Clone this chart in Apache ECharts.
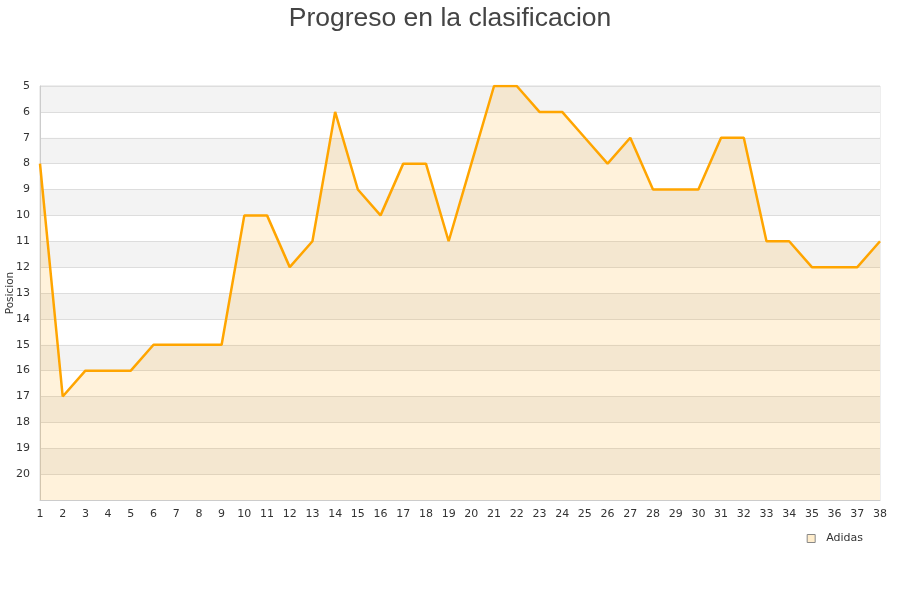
<!DOCTYPE html>
<html>
<head>
<meta charset="utf-8">
<script src="https://cdn.jsdelivr.net/npm/echarts@6/dist/echarts.min.js"></script>
<style>html,body{margin:0;padding:0;background:#fff;}#c{width:900px;height:600px;}</style>
</head>
<body>
<div id="c"></div>
<script>
var jornadas = ['1','2','3','4','5','6','7','8','9','10','11','12','13','14','15','16','17','18','19','20','21','22','23','24','25','26','27','28','29','30','31','32','33','34','35','36','37','38'];
var adidas = [8,17,16,16,16,15,15,15,15,10,10,12,11,6,9,10,8,8,11,8,5,5,6,6,7,8,7,9,9,9,7,7,11,11,12,12,12,11];
var yMin = 5, yMax = 21;

var chart = echarts.init(document.getElementById('c'));
chart.setOption({
  animation: false,
  title: {
    text: 'Progreso en la clasificacion',
    left: 'center', top: 0,
    textStyle: {fontFamily: 'Liberation Sans', fontSize: 26.5, fontWeight: 'normal', color: '#444'}
  },
  legend: {
    data: ['Adidas'],
    right: 32, top: 528,
    itemWidth: 8, itemHeight: 8,
    icon: 'rect',
    textStyle: {fontFamily: 'DejaVu Sans', fontSize: 11, color: '#333', padding: [0, 0, 0, 6]},
    itemStyle: {color: '#ffedcc', borderColor: '#888', borderWidth: 1}
  },
  grid: {left: 40, right: 20, top: 86, bottom: 100, containLabel: false, outerBoundsMode: 'none',
    show: true, borderColor: '#ddd', borderWidth: 1},
  xAxis: {
    type: 'category', data: jornadas, boundaryGap: false,
    axisLine: {lineStyle: {color: '#ccc'}},
    axisTick: {show: false},
    axisLabel: {fontFamily: 'DejaVu Sans', fontSize: 11, color: '#333', margin: 9},
    splitLine: {show: false}
  },
  yAxis: {
    type: 'value', inverse: true, min: yMin, max: yMax, interval: 1,
    name: 'Posicion', nameLocation: 'middle', nameGap: 24, nameMoveOverlap: false,
    nameTextStyle: {fontFamily: 'DejaVu Sans', fontSize: 10.5, color: '#333'},
    axisLine: {show: true, lineStyle: {color: '#ccc'}},
    axisTick: {show: false},
    axisLabel: {fontFamily: 'DejaVu Sans', fontSize: 11, color: '#333', margin: 10,
      formatter: function(v){ return v === yMax ? '' : String(v); }},
    splitLine: {show: true, lineStyle: {color: '#ddd'}},
    splitArea: {show: true, areaStyle: {color: ['#f3f3f3', '#ffffff']}}
  },
  series: [{
    name: 'Adidas', type: 'line', data: adidas,
    symbol: 'none',
    lineStyle: {color: '#ffa500', width: 2.5},
    itemStyle: {color: '#ffedcc'},
    areaStyle: {color: 'rgba(255,165,0,0.2)', origin: 'end'}
  }]
});
</script>
</body>
</html>
